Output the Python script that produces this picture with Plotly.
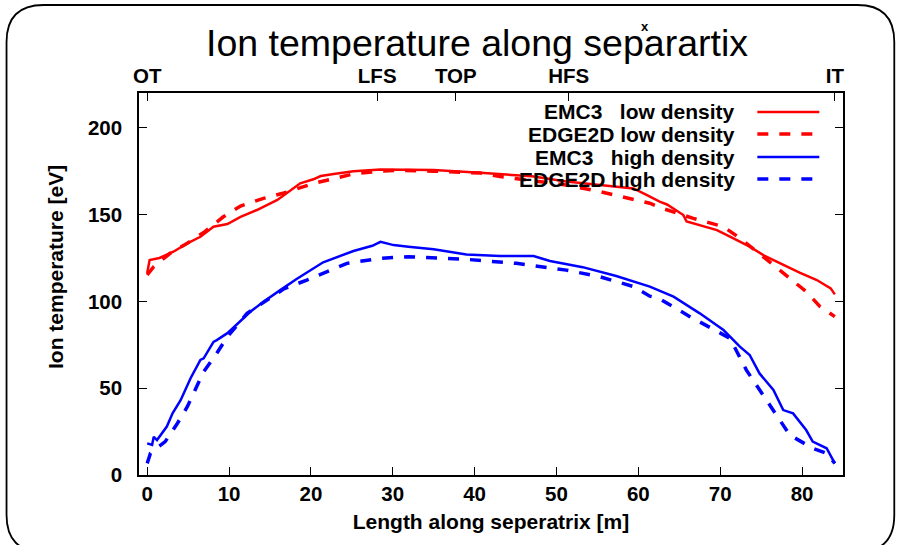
import plotly.graph_objects as go

# ---------------- data ----------------
emc3_low_x = [0, 0.3, 1.5, 3.2, 4.9, 6.5, 8.1, 9.8, 11.4, 13.4, 15.9, 18.7, 20.3, 21.2, 23, 25.2,
              28.5, 31, 35, 40.7, 43.1, 47, 51.2, 55.3, 59.4, 61, 62.6, 63.5, 65.5, 65.9, 67.5,
              69.6, 71.5, 73.6, 75.5, 77.7, 79.7, 81.8, 83.5, 84]
emc3_low_y = [116.3, 123.8, 125, 128.6, 133.4, 137.2, 143, 144.5, 148.7, 152.6, 158.4, 168, 170.3,
              172.2, 173.5, 175, 176, 176, 175.6, 174, 173.3, 172, 169, 167, 165, 161.3, 157.4,
              155.8, 149.7, 146, 144, 141, 136.5, 131.5, 126, 121, 116.5, 112.3, 107.5, 104]

edge2d_low_x = [0, 0.8, 2.8, 4.9, 7, 9.3, 11.4, 14.2, 16.7, 20.3, 22.4, 25.2, 28.5, 31, 35, 40.7,
                43.1, 47, 51.2, 55.3, 59.4, 61.4, 62.6, 64.5, 66.7, 68.5, 70.4, 72.4, 74.4, 76.5,
                78.5, 80.5, 82.2, 84]
edge2d_low_y = [115.2, 120, 127.7, 133.5, 140, 148.7, 154.9, 159.3, 162.4, 167.9, 170.2, 173.4, 175,
                175.5, 175, 173.9, 171.9, 169.5, 167, 163.2, 158.4, 156.5, 154.1, 151, 147.8, 145.5,
                143, 136.4, 128.6, 121, 113.3, 105.6, 97, 91.2]

emc3_high_x = [0, 0.6, 0.8, 1.2, 2.4, 3.1, 4.1, 5.3, 6.5, 6.9, 8.1, 8.5, 9.8, 10.2, 12.6, 14.2,
               15.5, 16.3, 18.3, 21.5, 25.2, 27.5, 28.5, 30.1, 31.9, 35, 39, 43.1, 47.2, 49.2,
               53.2, 57.3, 61.4, 62.6, 64.3, 67.5, 70.4, 72.4, 73.6, 74.8, 76.5, 77.7, 78.9, 80.5,
               81.3, 83, 83.6, 84]
emc3_high_y = [18.2, 17.3, 22, 20.1, 27.9, 35.5, 43.2, 55.7, 66.3, 67.2, 76.7, 77.7, 81.7, 83.5,
               94, 99.8, 103.7, 106.6, 113, 122.5, 129, 132, 134.3, 132.4, 131.5, 130, 127, 126.1,
               126.1, 123.3, 119.7, 114.6, 108.5, 106, 102.7, 93.1, 83.5, 73.9, 69.1, 58.5, 49,
               37.4, 35.5, 25.9, 19.2, 15.4, 10.6, 6.7]

edge2d_high_x = [0, 0.4, 1.4, 2.2, 3.7, 4.9, 6.9, 8.5, 9.8, 12.2, 16.7, 19.5, 24.4, 28.5, 31.9, 39,
                 45.1, 51.2, 55.3, 59.4, 61.4, 62.6, 66.3, 71.2, 73.2, 74.8, 76.5, 78.5, 81.3, 83, 84]
edge2d_high_y = [6.7, 12.5, 16.3, 19.2, 29.8, 39.3, 59.5, 70.1, 79.6, 93.1, 107.2, 112.3, 121.9,
                 124.8, 125.7, 124.2, 121.9, 118, 114.2, 108.5, 103, 101.5, 91.2, 78.7, 60.4, 49,
                 37.4, 23, 15.4, 12.5, 6.7]

series_names = ["EMC3\u00a0\u00a0 low density", "EDGE2D low density",
                "EMC3\u00a0\u00a0 high density", "EDGE2D high density"]

x_ticks = [0, 10, 20, 30, 40, 50, 60, 70, 80]
y_ticks = [0, 50, 100, 150, 200]
top_tick_pos = [0, 28.1, 37.7, 51.5, 84]
top_tick_text = ["OT", "LFS", "TOP", "HFS", "IT"]

# ---------------- layout geometry ----------------
W, H = 899, 545
L, R, T, B = 138.5, 842.7, 93, 475


def xp(px):
    return (px - L) / (R - L)


def yp(py):
    return (B - py) / (B - T)


RED = "#ff0000"
BLUE = "#0000ff"
FONT = "Liberation Sans, Arial, Helvetica, sans-serif"

styles = [
    dict(color=RED, width=2.5, dash="solid"),
    dict(color=RED, width=3.5, dash="11px,11px"),
    dict(color=BLUE, width=2.5, dash="solid"),
    dict(color=BLUE, width=3.5, dash="11px,11px"),
]
data = [(emc3_low_x, emc3_low_y), (edge2d_low_x, edge2d_low_y),
        (emc3_high_x, emc3_high_y), (edge2d_high_x, edge2d_high_y)]

fig = go.Figure()
for (xs, ys), st, nm in zip(data, styles, series_names):
    fig.add_trace(go.Scatter(x=xs, y=ys, mode="lines", name=nm, line=st, showlegend=False))

# empty trace bound to the top axis so that it renders
fig.add_trace(go.Scatter(x=[None], y=[None], xaxis="x2", showlegend=False, hoverinfo="skip"))

tickfont = dict(family=FONT, size=20.5, color="black", weight="bold")
titlefont = dict(family=FONT, size=21, color="black", weight="bold")

fig.update_layout(
    width=W, height=H,
    margin=dict(l=L, r=W - R, t=T, b=H - B, pad=0),
    paper_bgcolor="white", plot_bgcolor="white",
    showlegend=False,
    xaxis=dict(range=[-1, 85], tickvals=x_ticks, ticks="inside", ticklen=8, tickwidth=1.2,
               tickcolor="black", showline=True, linecolor="black", linewidth=1.5, mirror=True,
               showgrid=False, zeroline=False, tickfont=tickfont,
               title=dict(text="Length along seperatrix [m]", font=titlefont, standoff=10)),
    xaxis2=dict(range=[-1, 85], overlaying="x", side="top", tickvals=top_tick_pos,
                ticktext=top_tick_text, ticks="inside", ticklen=8, tickwidth=1.2,
                tickcolor="black", showline=False, showgrid=False, zeroline=False,
                tickfont=tickfont, ticklabelstandoff=5),
    yaxis=dict(range=[0, 220], tickvals=y_ticks, ticks="inside", ticklen=8, tickwidth=1.2,
               tickcolor="black", showline=True, linecolor="black", linewidth=1.5,
               mirror="ticks", showgrid=False, zeroline=False, tickfont=tickfont,
               ticklabelstandoff=11),
)

# y-axis title (placed as in the reference, slightly above the plot centre)
fig.add_annotation(text="Ion temperature [eV]", xref="paper", yref="paper",
                   x=xp(55), y=yp(267.5), xanchor="center", yanchor="middle",
                   textangle=-90, showarrow=False, font=titlefont)

# title
fig.add_annotation(text="Ion temperature along separartix", xref="paper", yref="paper",
                   x=xp(477), y=yp(42.5), xanchor="center", yanchor="middle", showarrow=False,
                   font=dict(family="Liberation Sans Narrow, Arial Narrow, Liberation Sans, Arial",
                             size=37.5, color="black"))
fig.add_annotation(text="x", xref="paper", yref="paper", x=xp(645), y=yp(26),
                   xanchor="center", yanchor="middle", showarrow=False,
                   font=dict(family=FONT, size=13, color="black", weight="bold"))

# legend (text right aligned, sample line on the right)
leg_rows = [112, 134, 157, 179]
for nm, st, row in zip(series_names, styles, leg_rows):
    fig.add_annotation(text=nm, xref="paper", yref="paper", x=xp(737), y=yp(row),
                       xanchor="right", yanchor="middle", showarrow=False,
                       font=dict(family=FONT, size=21, color="black", weight="bold"))
    fig.add_shape(type="line", xref="paper", yref="paper", x0=xp(757), x1=xp(819),
                  y0=yp(row), y1=yp(row), line=st)

# rounded outer frame
x0, y0, x1, y1, r = 6, 5, 894, 552, 37
pts = {
    "a": (x0 + r, y0), "b": (x1 - r, y0), "c": (x1, y0), "d": (x1, y0 + r),
    "e": (x1, y1 - r), "f": (x1, y1), "g": (x1 - r, y1), "h": (x0 + r, y1),
    "i": (x0, y1), "j": (x0, y1 - r), "k": (x0, y0 + r), "l": (x0, y0),
}
P = {k: f"{xp(v[0]):.5f},{yp(v[1]):.5f}" for k, v in pts.items()}
path = (f"M {P['a']} L {P['b']} Q {P['c']} {P['d']} L {P['e']} Q {P['f']} {P['g']} "
        f"L {P['h']} Q {P['i']} {P['j']} L {P['k']} Q {P['l']} {P['a']} Z")
fig.add_shape(type="path", path=path, xref="paper", yref="paper",
              line=dict(color="black", width=1.8), fillcolor="rgba(0,0,0,0)")

fig.write_html("out.html")
